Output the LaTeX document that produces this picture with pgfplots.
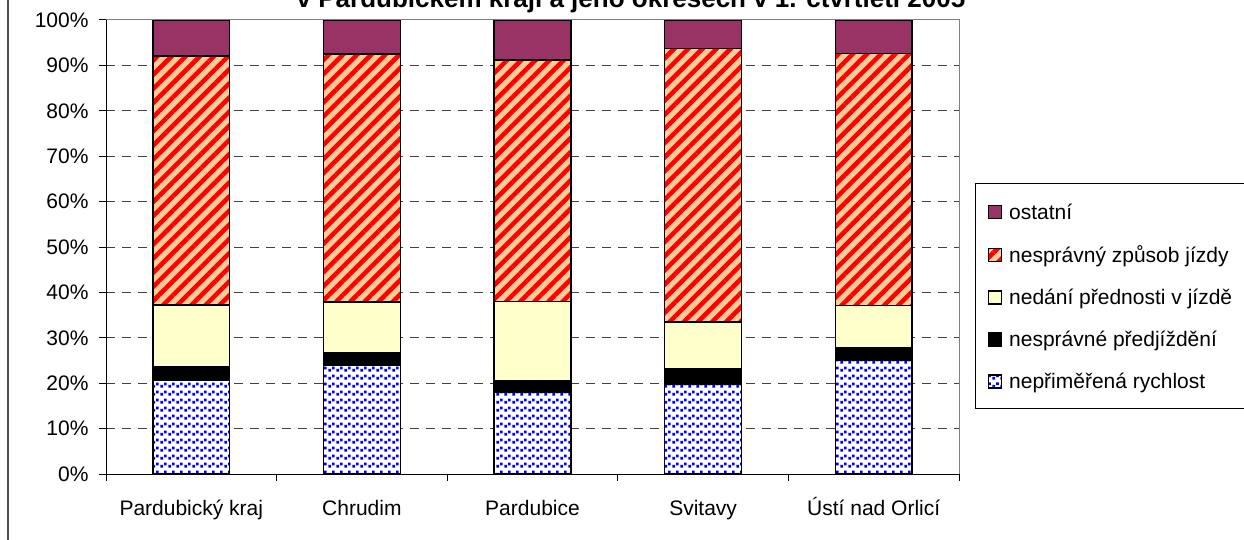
\documentclass[border=0pt]{standalone}
\usepackage{fontspec}
\setmainfont{Liberation Sans}
\usepackage{pgfplots}
\pgfplotsset{compat=1.18}
\usetikzlibrary{patterns.meta}

\definecolor{ostat}{HTML}{993366}
\definecolor{peach}{HTML}{FFCC99}
\definecolor{lightyel}{HTML}{FFFFCC}
\definecolor{gridc}{HTML}{404040}
\definecolor{framec}{HTML}{808080}

% blue squares on white, as in the spreadsheet fill
\tikzdeclarepattern{name=bluesq, type=uncolored,
  bounding box={(0pt,0pt) and (8pt,8pt)}, tile size={(8pt,8pt)},
  code={\fill (0.5pt,0.5pt) rectangle (3.5pt,3.5pt);
        \fill (4.5pt,3pt) rectangle (7.5pt,6pt);}}

\begin{document}
\begin{tikzpicture}[x=1pt,y=1pt]
\useasboundingbox (0,0) rectangle (1244,539);
\draw[framec!60!black, line width=2pt] (8,-5) -- (8,545);
\node[font=\bfseries\fontsize{26}{30}\selectfont, anchor=base] at (631,531.5)
  {v Pardubickém kraji a jeho okresech v 1. čtvrtletí 2005};
\begin{axis}[name=ax, at={(106pt,65pt)}, anchor=south west,
  scale only axis, width=853pt, height=454pt,
  ybar stacked, bar width=0.45,
  xmin=-0.5, xmax=4.5, ymin=0, ymax=100,
  axis x line*=bottom, axis y line*=left,
  axis line style={black, line width=1pt},
  xtick={0,...,4},
  xticklabels={Pardubický kraj,Chrudim,Pardubice,Svitavy,Ústí nad Orlicí},
  minor xtick={-0.5,0.5,...,4.5},
  major x tick style={draw=none},
  ytick={0,10,...,100},
  yticklabels={0\%,10\%,20\%,30\%,40\%,50\%,60\%,70\%,80\%,90\%,100\%},
  tick align=outside, major tick length=7pt, minor tick length=7pt,
  tick style={black, line width=1pt},
  ticklabel style={font=\fontsize{21}{25}\selectfont},
  xticklabel style={yshift=-15pt, text height=16pt, text depth=5pt},
  yticklabel style={xshift=-7pt},
  ymajorgrids, major grid style={gridc, dash pattern=on 9pt off 7pt, line width=1pt},
  legend image code/.code={\draw[#1, line width=1.4pt] (0pt,-6.5pt) rectangle (13pt,6.5pt);},
  reverse legend,
  legend cell align=left,
  legend style={at={(1.0335,0.600)}, anchor=north west, draw=none, fill=none,
    font=\fontsize{21}{25}\selectfont, row sep=21pt, inner sep=0pt,
    /tikz/every odd column/.append style={column sep=5pt}},
  every axis plot/.append style={draw=black, line width=1.5pt},
]
\addplot[fill=white, postaction={pattern=bluesq, pattern color=blue}]
  coordinates {(0,20.7) (1,23.9) (2,18.0) (3,19.8) (4,25.0)};
\addlegendentry{nepřiměřená rychlost}
\addplot[fill=black]
  coordinates {(0,2.9) (1,2.8) (2,2.5) (3,3.3) (4,2.7)};
\addlegendentry{nesprávné předjíždění}
\addplot[fill=lightyel]
  coordinates {(0,13.6) (1,11.2) (2,17.5) (3,10.4) (4,9.4)};
\addlegendentry{nedání přednosti v jízdě}
\addplot[fill=peach, postaction={pattern={Lines[angle=45,distance=10pt,line width=4.5pt]}, pattern color=red}]
  coordinates {(0,54.9) (1,54.6) (2,53.2) (3,60.2) (4,55.5)};
\addlegendentry{nesprávný způsob jízdy}
\addplot[fill=ostat]
  coordinates {(0,7.9) (1,7.5) (2,8.8) (3,6.3) (4,7.4)};
\addlegendentry{ostatní}
\end{axis}
\draw[framec, line width=1pt] (106,519) -- (959,519) -- (959,65);
\draw[black, line width=1pt] (975,355) rectangle (1262,131);
\end{tikzpicture}
\end{document}
